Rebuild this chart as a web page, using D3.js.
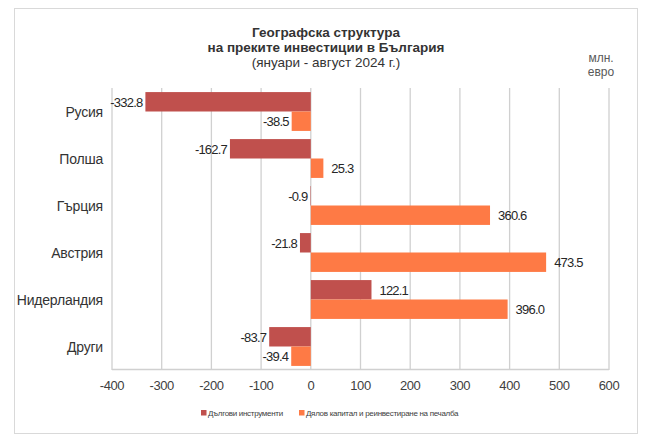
<!DOCTYPE html>
<html>
<head>
<meta charset="utf-8">
<script src="https://cdn.jsdelivr.net/npm/d3@7"></script>
<style>
  body { margin: 0; background: #fff; }
  svg { font-family: "Liberation Sans", Arial, sans-serif; }
</style>
</head>
<body>
<svg width="647" height="439"></svg>
<script>
// Data
var countries = ["Русия", "Полша", "Гърция", "Австрия", "Нидерландия", "Други"];
var seriesNames = ["Дългови инструменти", "Дялов капитал и реинвестиране на печалба"];
var debtValues = [-332.8, -162.7, -0.9, -21.8, 122.1, -83.7];
var equityValues = [-38.5, 25.3, 360.6, 473.5, 396.0, -39.4];
var xTicks = [-400, -300, -200, -100, 0, 100, 200, 300, 400, 500, 600];
var colors = ["#C0504D", "#FE7A45"];

var svg = d3.select("svg"),
  width = +svg.attr("width"),
  height = +svg.attr("height");

// chart frame
svg.append("rect")
  .attr("x", 14.5).attr("y", 8.5)
  .attr("width", 623).attr("height", 425)
  .attr("fill", "#fff")
  .attr("stroke", "#D9D9D9");

// title
var title = svg.append("text")
  .attr("text-anchor", "middle")
  .attr("fill", "#333")
  .style("font-size", "13.5px");
title.append("tspan").attr("x", 326).attr("y", 37).style("font-weight", "bold").text("Географска структура");
title.append("tspan").attr("x", 326).attr("y", 52).style("font-weight", "bold").text("на преките инвестиции в България");
title.append("tspan").attr("x", 326).attr("y", 67).text("(януари - август 2024 г.)");

// unit label
svg.append("text").attr("x", 601).attr("y", 62).attr("text-anchor", "middle")
  .attr("fill", "#595959").style("font-size", "12px").text("млн.");
svg.append("text").attr("x", 601).attr("y", 76).attr("text-anchor", "middle")
  .attr("fill", "#595959").style("font-size", "12px").text("евро");

// scales
var x = d3.scaleLinear().domain([-400, 600]).range([112, 609]);
var y0 = d3.scaleBand().domain(countries).range([88, 370]);
var y1 = d3.scaleBand().domain([0, 1]).range([0, y0.bandwidth()]).paddingOuter(0.21);

// gridlines
svg.append("g")
  .selectAll("line")
  .data(xTicks)
  .enter()
  .append("line")
  .attr("x1", function (d) { return x(d); })
  .attr("x2", function (d) { return x(d); })
  .attr("y1", 88)
  .attr("y2", 370)
  .attr("stroke", "#D0D0D0")
  .attr("stroke-width", 1.3);

// bottom axis line
svg.append("line")
  .attr("x1", x(-400)).attr("x2", x(600))
  .attr("y1", 369.5).attr("y2", 369.5)
  .attr("stroke", "#D0D0D0").attr("stroke-width", 1.3);

// x tick labels
svg.append("g")
  .selectAll("text")
  .data(xTicks)
  .enter()
  .append("text")
  .attr("x", function (d) { return x(d); })
  .attr("y", 390)
  .attr("text-anchor", "middle")
  .attr("fill", "#404040")
  .style("font-size", "13px")
  .style("letter-spacing", "-0.4px")
  .text(function (d) { return d; });

// category labels
svg.append("g")
  .selectAll("text")
  .data(countries)
  .enter()
  .append("text")
  .attr("x", 103)
  .attr("y", function (d) { return y0(d) + y0.bandwidth() / 2 + 5; })
  .attr("text-anchor", "end")
  .attr("fill", "#333")
  .style("font-size", "14px")
  .style("letter-spacing", "-0.2px")
  .text(function (d) { return d; });

// bars
var rows = [];
countries.forEach(function (c, i) {
  rows.push({ country: c, s: 0, value: debtValues[i] });
  rows.push({ country: c, s: 1, value: equityValues[i] });
});

svg.append("g")
  .selectAll("rect")
  .data(rows)
  .enter()
  .append("rect")
  .attr("x", function (d) { return x(Math.min(0, d.value)); })
  .attr("y", function (d) { return y0(d.country) + y1(d.s); })
  .attr("width", function (d) { return Math.abs(x(d.value) - x(0)); })
  .attr("height", y1.bandwidth())
  .attr("fill", function (d) { return colors[d.s]; });

// data labels
svg.append("g")
  .selectAll("text")
  .data(rows)
  .enter()
  .append("text")
  .attr("x", function (d) { return d.value < 0 ? x(d.value) - 3 : x(d.value) + 8; })
  .attr("y", function (d) { return y0(d.country) + y1(d.s) + y1.bandwidth() / 2 + 5; })
  .attr("text-anchor", function (d) { return d.value < 0 ? "end" : "start"; })
  .attr("fill", "#262626")
  .style("font-size", "13px")
  .style("letter-spacing", "-0.8px")
  .text(function (d) { return d.value.toFixed(1); });

// legend
var legend = svg.append("g").attr("transform", "translate(201,413)");
var lx = [0, 98];
seriesNames.forEach(function (name, i) {
  legend.append("rect")
    .attr("x", lx[i]).attr("y", -3)
    .attr("width", 5.5).attr("height", 5.5)
    .attr("fill", colors[i]);
  legend.append("text")
    .attr("x", lx[i] + 7).attr("y", 3)
    .attr("fill", "#404040")
    .style("font-size", "8px")
    .style("letter-spacing", "-0.3px")
    .text(name);
});
</script>
</body>
</html>
